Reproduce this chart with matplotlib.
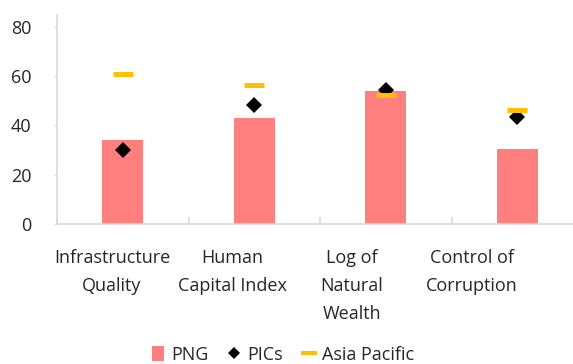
import matplotlib
matplotlib.use("Agg")
import matplotlib.pyplot as plt
from matplotlib.lines import Line2D
from matplotlib.patches import Patch
import numpy as np

plt.rcParams['font.family'] = ['Open Sans', 'DejaVu Sans']

categories = ["Infrastructure\nQuality", "Human\nCapital Index", "Log of\nNatural\nWealth", "Control of\nCorruption"]
png_values = [34, 43, 54.2, 30.6]
pics_values = [30.2, 48.5, 54.5, 43.3]
asia_pacific_values = [61, 56.5, 52.3, 46.3]
y_ticks = [0, 20, 40, 60, 80]

bar_color = "#FF7F7F"
pics_color = "#000000"
ap_color = "#FFC000"
axis_color = "#D9D9D9"
text_color = "#262626"

fig = plt.figure(figsize=(5.73, 3.64), dpi=100)
ax = fig.add_axes([0.0995, 0.3846, 0.918, 0.5751])

x = np.arange(len(categories))
ax.bar(x, png_values, width=0.31, color=bar_color, zorder=2)
ax.plot(x, pics_values, linestyle="none", marker="D", markersize=8.6,
        color=pics_color, markeredgewidth=0, zorder=3)
ax.plot(x, asia_pacific_values, linestyle="none", marker="_", markersize=15,
        markeredgewidth=3.6, color=ap_color, zorder=4)

ax.set_xlim(-0.5, len(categories) - 0.5)
ax.set_ylim(0, 85)
ax.set_yticks(y_ticks)
ax.tick_params(axis="y", length=2.5, width=0.8, color=axis_color, pad=16,
               labelsize=13, labelcolor=text_color)

# category separators as tick marks on the x axis
ax.set_xticks(np.arange(len(categories) + 1) - 0.5)
ax.set_xticklabels([])
ax.tick_params(axis="x", direction="in", length=5, width=1.2, color=axis_color)

for side in ["top", "right"]:
    ax.spines[side].set_visible(False)
for side in ["left", "bottom"]:
    ax.spines[side].set_color(axis_color)
    ax.spines[side].set_linewidth(1.2)
ax.spines["left"].set_bounds(0, 85)

# category labels
for i, label in enumerate(categories):
    ax.text(0.1046 + i * 0.228, -0.12, label, transform=ax.transAxes,
            ha="center", va="top", fontsize=13, color=text_color,
            linespacing=1.72)

handles = [
    Patch(facecolor=bar_color, edgecolor="none"),
    Line2D([], [], linestyle="none", marker="D", markersize=6, color=pics_color,
           markeredgewidth=0),
    Line2D([], [], linestyle="none", marker="_", markersize=11,
           markeredgewidth=3, color=ap_color),
]
fig.legend(handles, ["PNG", "PICs", "Asia Pacific"], loc="center",
           bbox_to_anchor=(0.494, 0.026), ncol=3, frameon=False, fontsize=13,
           handlelength=0.65, handleheight=0.9, handletextpad=0.4,
           columnspacing=1.1, labelcolor=text_color)

fig.savefig("out.png", dpi=100)
